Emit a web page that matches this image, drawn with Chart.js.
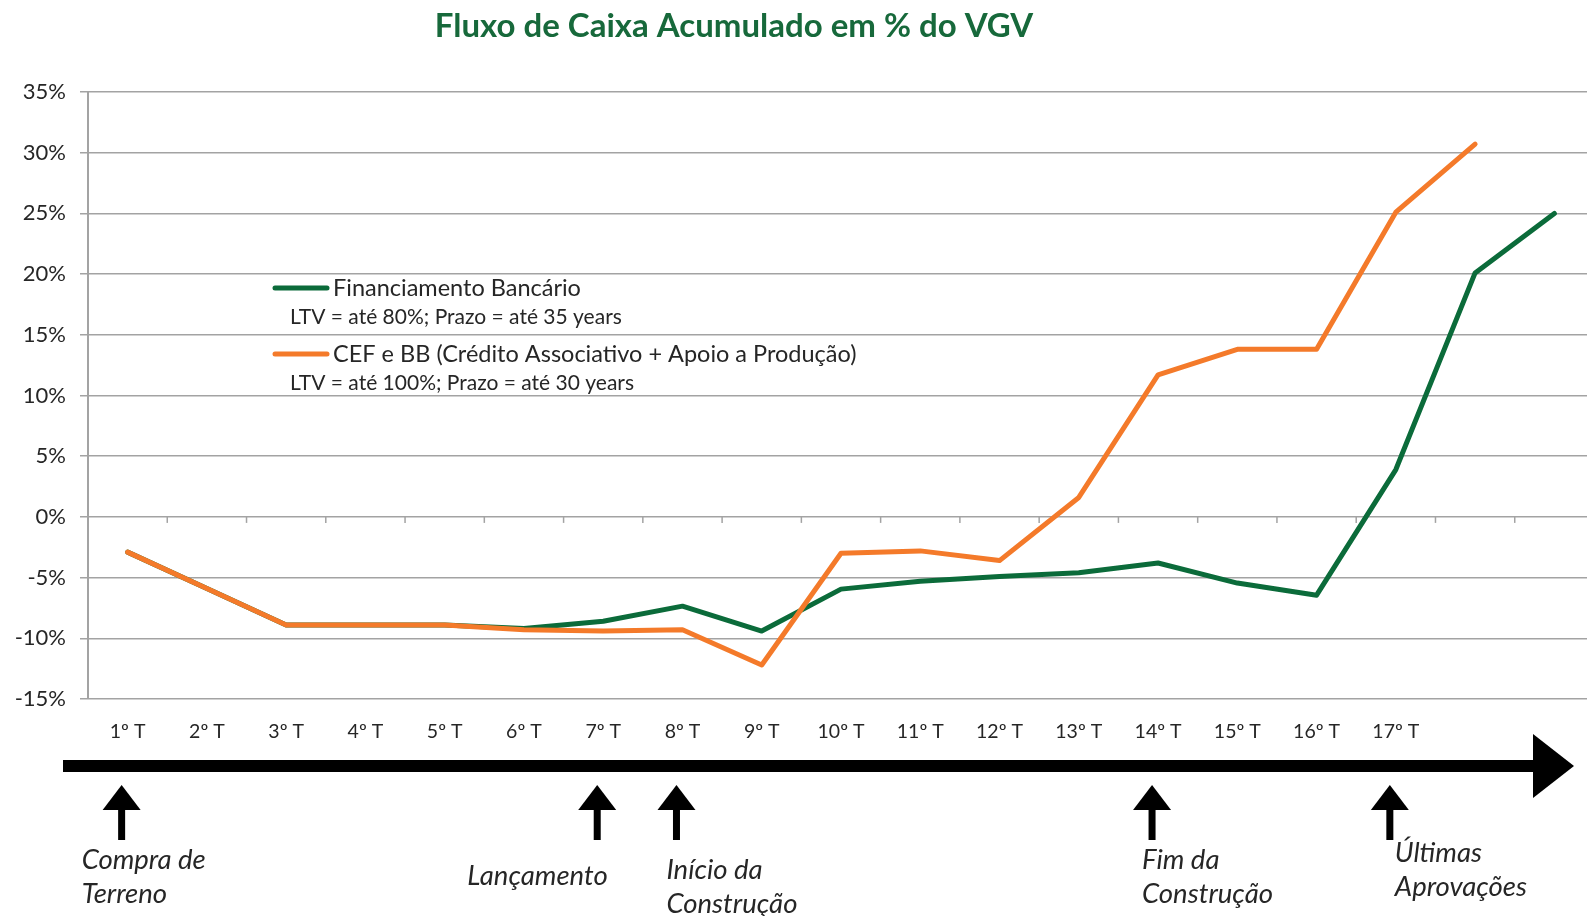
<!DOCTYPE html>
<html>
<head>
<meta charset="utf-8">
<script src="https://cdn.jsdelivr.net/npm/chart.js@4.4.1/dist/chart.umd.min.js"></script>
<style>
    body { margin: 0; background: #fff; overflow: hidden; }
    #wrap { width: 1600px; height: 916px; }
</style>
</head>
<body>
<div id="wrap"><canvas id="cash-chart" width="1600" height="916"></canvas></div>
<script>
// Fluxo de caixa acumulado (% do VGV), por trimestre

const quarters = ['1º T', '2º T', '3º T', '4º T', '5º T', '6º T', '7º T', '8º T', '9º T',
    '10º T', '11º T', '12º T', '13º T', '14º T', '15º T', '16º T', '17º T', '', ''];

const bankFinancing = [-2.9, -5.9, -8.9, -8.9, -8.9, -9.2, -8.6, -7.35, -9.4,
    -5.95, -5.3, -4.9, -4.6, -3.8, -5.45, -6.45, 3.9, 20.1, 25.0];

const cefBb = [-2.9, -5.9, -8.9, -8.9, -8.9, -9.3, -9.4, -9.3, -12.2,
    -3.0, -2.8, -3.6, 1.6, 11.7, 13.8, 13.8, 25.1, 30.7, null];

const yTicks = [-15, -10, -5, 0, 5, 10, 15, 20, 25, 30, 35];

const seriesNames = ['Financiamento Bancário', 'CEF e BB (Crédito Associativo + Apoio a Produção)'];
const seriesNotes = ['LTV = até 80%; Prazo = até 35 years', 'LTV = até 100%; Prazo = até 30 years'];

// milestones along the timeline (category index + text)
const eventIndex = [0, 6, 7, 13, 16];
const eventLabels = [['Compra de', 'Terreno'], ['Lançamento'], ['Início da', 'Construção'],
    ['Fim da', 'Construção'], ['Últimas', 'Aprovações']];

const chartTitle = 'Fluxo de Caixa Acumulado em % do VGV';

const GREEN = '#0b6b3a';
const ORANGE = '#f47a2a';
const GRID = '#a3a3a3';
const TEXT = '#262626';

// text placement for each milestone (relative to its arrow)
const eventTextDx = [-40, -130, -10, -10, 5];
const eventTextY = [860, 876, 870, 860, 853];

const extras = {
    id: 'extras',
    afterDraw(chart) {
        const ctx = chart.ctx;
        const xs = chart.scales.x;
        const ys = chart.scales.y;
        ctx.save();

        // title
        ctx.fillStyle = '#17693b';
        ctx.font = 'bold 33px Lato';
        ctx.textAlign = 'center';
        ctx.textBaseline = 'middle';
        ctx.fillText(chartTitle, 734, 26);

        // tick marks on the zero line
        const y0 = ys.getPixelForValue(0);
        ctx.strokeStyle = GRID;
        ctx.lineWidth = 1.5;
        for (let i = 1; i < quarters.length; i++) {
            const bx = (xs.getPixelForValue(i - 1) + xs.getPixelForValue(i)) / 2;
            ctx.beginPath();
            ctx.moveTo(bx, y0);
            ctx.lineTo(bx, y0 + 6);
            ctx.stroke();
        }

        // legend
        const lx = 275, rows = [288, 354];
        const colors = [GREEN, ORANGE];
        ctx.textAlign = 'left';
        rows.forEach((ry, i) => {
            ctx.strokeStyle = colors[i];
            ctx.lineWidth = 5;
            ctx.lineCap = 'round';
            ctx.beginPath();
            ctx.moveTo(lx, ry);
            ctx.lineTo(lx + 52, ry);
            ctx.stroke();
            ctx.fillStyle = TEXT;
            ctx.font = '23.5px Lato';
            ctx.fillText(seriesNames[i], lx + 58, ry);
            ctx.font = '21px Lato';
            ctx.fillText(seriesNotes[i], lx + 15, ry + 29);
        });

        // timeline arrow
        ctx.fillStyle = '#000';
        const ty = 766;
        ctx.fillRect(63, ty - 6, 1475, 12);
        ctx.beginPath();
        ctx.moveTo(1533, ty - 32);
        ctx.lineTo(1574, ty);
        ctx.lineTo(1533, ty + 32);
        ctx.closePath();
        ctx.fill();

        // milestone arrows and labels
        eventIndex.forEach((idx, i) => {
            const ax = xs.getPixelForValue(idx) - 6;
            ctx.fillStyle = '#000';
            ctx.beginPath();
            ctx.moveTo(ax, 785);
            ctx.lineTo(ax + 19, 810);
            ctx.lineTo(ax - 19, 810);
            ctx.closePath();
            ctx.fill();
            ctx.fillRect(ax - 3.5, 808, 7, 32);

            ctx.fillStyle = TEXT;
            ctx.font = 'italic 27.5px Lato';
            ctx.textAlign = 'left';
            eventLabels[i].forEach((line, k) => {
                ctx.fillText(line, ax + eventTextDx[i], eventTextY[i] + k * 34);
            });
        });

        ctx.restore();
    }
};

new Chart(document.getElementById('cash-chart'), {
    type: 'line',
    data: {
        labels: quarters,
        datasets: [
            {
                label: seriesNames[0],
                data: bankFinancing,
                borderColor: GREEN,
                borderWidth: 5,
                pointRadius: 0,
                tension: 0,
                order: 2,
            },
            {
                label: seriesNames[1],
                data: cefBb,
                borderColor: ORANGE,
                borderWidth: 5,
                pointRadius: 0,
                tension: 0,
                order: 1,
            },
        ],
    },
    options: {
        responsive: false,
        animation: false,
        layout: { padding: { top: 92, left: 0, right: 6, bottom: 0 } },
        plugins: {
            legend: { display: false },
            title: { display: false },
            tooltip: { enabled: false },
        },
        elements: { line: { borderCapStyle: 'round', borderJoinStyle: 'round' } },
        scales: {
            x: {
                offset: true,
                grid: { display: false, drawTicks: false },
                border: { display: false },
                ticks: {
                    color: TEXT,
                    font: { family: 'Lato', size: 19.5 },
                    padding: 21,
                    maxRotation: 0,
                    autoSkip: false,
                },
                afterFit: s => { s.height = 217; },
            },
            y: {
                min: -15,
                max: 35,
                afterBuildTicks: s => { s.ticks = yTicks.map(v => ({ value: v })); },
                grid: { color: GRID, lineWidth: 1.5, tickLength: 8 },
                border: { display: true, color: GRID, width: 2 },
                ticks: {
                    color: TEXT,
                    font: { family: 'Lato', size: 22 },
                    padding: 14,
                    callback: v => v + '%',
                },
                afterFit: s => { s.width = 88; },
            },
        },
    },
    plugins: [extras],
});
</script>
</body>
</html>
